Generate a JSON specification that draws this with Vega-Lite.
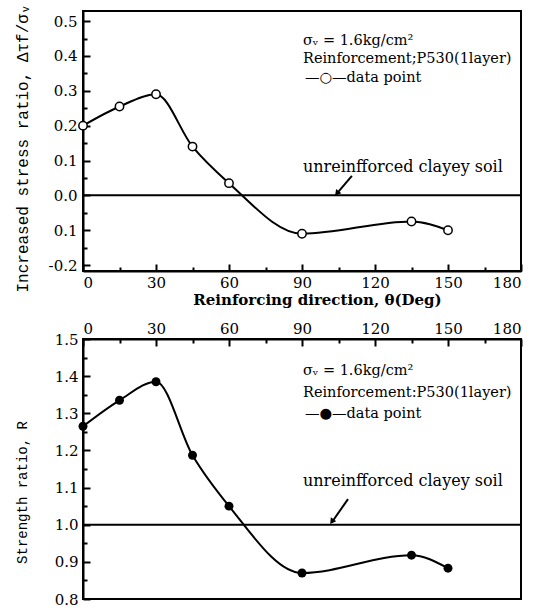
{
  "$schema": "https://vega.github.io/schema/vega-lite/v6.json",
  "padding": {"left": 12, "top": 2, "right": 0, "bottom": 0},
  "background": "white",
  "bounds": "flush",
  "spacing": 68,
  "config": {
    "view": {"stroke": "black", "strokeWidth": 2},
    "axis": {"domainColor": "black", "domainWidth": 2, "tickColor": "black", "tickWidth": 2, "labelColor": "black", "titleColor": "black", "grid": false, "labelFont": "DejaVu Serif", "labelFontSize": 15}
  },
  "datasets": {
    "stress": [
      {"deg": 0, "ratio": 0.2},
      {"deg": 15, "ratio": 0.255},
      {"deg": 30, "ratio": 0.29},
      {"deg": 45, "ratio": 0.14},
      {"deg": 60, "ratio": 0.035},
      {"deg": 90, "ratio": -0.11},
      {"deg": 135, "ratio": -0.075},
      {"deg": 150, "ratio": -0.1}
    ],
    "strength": [
      {"deg": 0, "R": 1.265},
      {"deg": 15, "R": 1.335},
      {"deg": 30, "R": 1.385},
      {"deg": 45, "R": 1.187},
      {"deg": 60, "R": 1.05},
      {"deg": 90, "R": 0.87},
      {"deg": 135, "R": 0.918},
      {"deg": 150, "R": 0.883}
    ]
  },
  "vconcat": [
    {
      "width": 438,
      "height": 260,
      "resolve": {"axis": {"x": "independent", "y": "independent"}},
      "layer": [
        {
          "data": {"values": [{"ref": 0}]},
          "mark": {"type": "rule", "color": "black", "strokeWidth": 2},
          "encoding": {"y": {"field": "ref", "type": "quantitative", "scale": {"domain": [-0.217, 0.529], "nice": false, "zero": false}, "axis": null}}
        },
        {
          "data": {"name": "stress"},
          "mark": {"type": "line", "color": "black", "strokeWidth": 2, "interpolate": "monotone"},
          "encoding": {
            "x": {"field": "deg", "type": "quantitative", "scale": {"domain": [0, 180], "nice": false, "zero": false},
                  "axis": {"orient": "bottom", "values": [0, 30, 60, 90, 120, 150, 180], "tickSize": -7, "labelPadding": 11, "title": "Reinforcing direction, θ(Deg)", "titleFont": "DejaVu Serif", "titleFontSize": 15, "titleFontWeight": "bold", "titleX": 234, "titleY": 28, "titleBaseline": "middle", "titleAlign": "center"}},
            "y": {"field": "ratio", "type": "quantitative", "scale": {"domain": [-0.217, 0.529], "nice": false, "zero": false},
                  "axis": {"orient": "left", "values": [-0.2, -0.1, 0, 0.1, 0.2, 0.3, 0.4, 0.5], "tickSize": -7, "labelPadding": 13, "labelExpr": "datum.value < -0.15 ? '-0.2' : (datum.value < -0.05 ? '0.1' : format(datum.value, '.1f'))", "title": "Increased stress ratio, Δτf/σᵥ", "titleFont": "Liberation Mono", "titleFontSize": 16, "titleFontWeight": "normal", "titleX": -61, "titleY": 137, "titleBaseline": "middle", "titleAlign": "center", "titleAngle": 270}}
          }
        },
        {
          "data": {"name": "stress"},
          "mark": {"type": "point", "shape": "circle", "filled": true, "fill": "white", "stroke": "black", "strokeWidth": 1.5, "size": 70, "opacity": 1},
          "encoding": {
            "x": {"field": "deg", "type": "quantitative", "scale": {"domain": [0, 180], "nice": false, "zero": false},
                  "axis": {"orient": "bottom", "values": [15, 45, 75, 105, 135, 165], "tickSize": -4, "labels": false, "domain": false, "title": null}},
            "y": {"field": "ratio", "type": "quantitative", "scale": {"domain": [-0.217, 0.529], "nice": false, "zero": false},
                  "axis": {"orient": "left", "values": [-0.15, -0.05, 0.05, 0.15, 0.25, 0.35, 0.45], "tickSize": -4, "labels": false, "domain": false, "title": null}}
          }
        },
        {
          "data": {"values": [{"label": "σᵥ = 1.6kg/cm²"}]},
          "mark": {"type": "text", "align": "left", "baseline": "middle", "font": "DejaVu Serif", "fontSize": 14.5, "color": "black"},
          "encoding": {"text": {"field": "label"},
            "x": {"datum": 90.4, "type": "quantitative", "scale": {"domain": [0, 180], "nice": false, "zero": false}, "axis": null},
            "y": {"datum": 0.443, "type": "quantitative", "scale": {"domain": [-0.217, 0.529], "nice": false, "zero": false}, "axis": null}}
        },
        {
          "data": {"values": [{"label": "Reinforcement;P530(1layer)"}]},
          "mark": {"type": "text", "align": "left", "baseline": "middle", "font": "DejaVu Serif", "fontSize": 14.5, "color": "black"},
          "encoding": {"text": {"field": "label"},
            "x": {"datum": 90.4, "type": "quantitative", "scale": {"domain": [0, 180], "nice": false, "zero": false}, "axis": null},
            "y": {"datum": 0.391, "type": "quantitative", "scale": {"domain": [-0.217, 0.529], "nice": false, "zero": false}, "axis": null}}
        },
        {
          "data": {"values": [{"label": "—○—data point"}]},
          "mark": {"type": "text", "align": "left", "baseline": "middle", "font": "DejaVu Serif", "fontSize": 14.5, "color": "black"},
          "encoding": {"text": {"field": "label"},
            "x": {"datum": 91.2, "type": "quantitative", "scale": {"domain": [0, 180], "nice": false, "zero": false}, "axis": null},
            "y": {"datum": 0.338, "type": "quantitative", "scale": {"domain": [-0.217, 0.529], "nice": false, "zero": false}, "axis": null}}
        },
        {
          "data": {"values": [{"label": "unreinfforced clayey soil"}]},
          "mark": {"type": "text", "align": "left", "baseline": "middle", "font": "DejaVu Serif", "fontSize": 16, "color": "black"},
          "encoding": {"text": {"field": "label"},
            "x": {"datum": 90.4, "type": "quantitative", "scale": {"domain": [0, 180], "nice": false, "zero": false}, "axis": null},
            "y": {"datum": 0.08, "type": "quantitative", "scale": {"domain": [-0.217, 0.529], "nice": false, "zero": false}, "axis": null}}
        },
        {
          "data": {"values": [{"label": "arrow"}]},
          "mark": {"type": "rule", "color": "black", "strokeWidth": 2},
          "encoding": {
            "x": {"datum": 110.5, "type": "quantitative", "scale": {"domain": [0, 180], "nice": false, "zero": false}, "axis": null},
            "y": {"datum": 0.056, "type": "quantitative", "scale": {"domain": [-0.217, 0.529], "nice": false, "zero": false}, "axis": null},
            "x2": {"datum": 104.2},
            "y2": {"datum": 0.004}
          }
        },
        {
          "data": {"values": [{"label": "arrowhead"}]},
          "mark": {"type": "point", "shape": "triangle", "filled": true, "color": "black", "size": 45, "angle": 219, "opacity": 1},
          "encoding": {
            "x": {"datum": 104.6, "type": "quantitative", "scale": {"domain": [0, 180], "nice": false, "zero": false}, "axis": null},
            "y": {"datum": 0.008, "type": "quantitative", "scale": {"domain": [-0.217, 0.529], "nice": false, "zero": false}, "axis": null}
          }
        }
      ]
    },
    {
      "width": 438,
      "height": 260,
      "resolve": {"axis": {"x": "independent", "y": "independent"}},
      "layer": [
        {
          "data": {"values": [{"ref": 1.0}]},
          "mark": {"type": "rule", "color": "black", "strokeWidth": 2},
          "encoding": {"y": {"field": "ref", "type": "quantitative", "scale": {"domain": [0.8, 1.5], "nice": false, "zero": false}, "axis": null}}
        },
        {
          "data": {"name": "strength"},
          "mark": {"type": "line", "color": "black", "strokeWidth": 2, "interpolate": "monotone"},
          "encoding": {
            "x": {"field": "deg", "type": "quantitative", "scale": {"domain": [0, 180], "nice": false, "zero": false},
                  "axis": {"orient": "top", "values": [0, 30, 60, 90, 120, 150, 180], "tickSize": -7, "labelPadding": 10, "title": null}},
            "y": {"field": "R", "type": "quantitative", "scale": {"domain": [0.8, 1.5], "nice": false, "zero": false},
                  "axis": {"orient": "left", "values": [0.8, 0.9, 1.0, 1.1, 1.2, 1.3, 1.4, 1.5], "format": ".1f", "tickSize": -7, "labelPadding": 12, "title": "Strength ratio, R", "titleFont": "Liberation Mono", "titleFontSize": 14, "titleFontWeight": "normal", "titleX": -61, "titleY": 153, "titleBaseline": "middle", "titleAlign": "center", "titleAngle": 270}}
          }
        },
        {
          "data": {"name": "strength"},
          "mark": {"type": "point", "shape": "circle", "filled": true, "color": "black", "size": 80, "opacity": 1},
          "encoding": {
            "x": {"field": "deg", "type": "quantitative", "scale": {"domain": [0, 180], "nice": false, "zero": false},
                  "axis": {"orient": "top", "values": [15, 45, 75, 105, 135, 165], "tickSize": -4, "labels": false, "domain": false, "title": null}},
            "y": {"field": "R", "type": "quantitative", "scale": {"domain": [0.8, 1.5], "nice": false, "zero": false},
                  "axis": {"orient": "left", "values": [0.85, 0.95, 1.05, 1.15, 1.25, 1.35, 1.45], "tickSize": -4, "labels": false, "domain": false, "title": null}}
          }
        },
        {
          "data": {"values": [{"label": "σᵥ = 1.6kg/cm²"}]},
          "mark": {"type": "text", "align": "left", "baseline": "middle", "font": "DejaVu Serif", "fontSize": 14.5, "color": "black"},
          "encoding": {"text": {"field": "label"},
            "x": {"datum": 90.4, "type": "quantitative", "scale": {"domain": [0, 180], "nice": false, "zero": false}, "axis": null},
            "y": {"datum": 1.413, "type": "quantitative", "scale": {"domain": [0.8, 1.5], "nice": false, "zero": false}, "axis": null}}
        },
        {
          "data": {"values": [{"label": "Reinforcement:P530(1layer)"}]},
          "mark": {"type": "text", "align": "left", "baseline": "middle", "font": "DejaVu Serif", "fontSize": 14.5, "color": "black"},
          "encoding": {"text": {"field": "label"},
            "x": {"datum": 90.4, "type": "quantitative", "scale": {"domain": [0, 180], "nice": false, "zero": false}, "axis": null},
            "y": {"datum": 1.355, "type": "quantitative", "scale": {"domain": [0.8, 1.5], "nice": false, "zero": false}, "axis": null}}
        },
        {
          "data": {"values": [{"label": "—●—data point"}]},
          "mark": {"type": "text", "align": "left", "baseline": "middle", "font": "DejaVu Serif", "fontSize": 14.5, "color": "black"},
          "encoding": {"text": {"field": "label"},
            "x": {"datum": 91.2, "type": "quantitative", "scale": {"domain": [0, 180], "nice": false, "zero": false}, "axis": null},
            "y": {"datum": 1.297, "type": "quantitative", "scale": {"domain": [0.8, 1.5], "nice": false, "zero": false}, "axis": null}}
        },
        {
          "data": {"values": [{"label": "unreinfforced clayey soil"}]},
          "mark": {"type": "text", "align": "left", "baseline": "middle", "font": "DejaVu Serif", "fontSize": 16, "color": "black"},
          "encoding": {"text": {"field": "label"},
            "x": {"datum": 90.4, "type": "quantitative", "scale": {"domain": [0, 180], "nice": false, "zero": false}, "axis": null},
            "y": {"datum": 1.118, "type": "quantitative", "scale": {"domain": [0.8, 1.5], "nice": false, "zero": false}, "axis": null}}
        },
        {
          "data": {"values": [{"label": "arrow"}]},
          "mark": {"type": "rule", "color": "black", "strokeWidth": 2},
          "encoding": {
            "x": {"datum": 108.9, "type": "quantitative", "scale": {"domain": [0, 180], "nice": false, "zero": false}, "axis": null},
            "y": {"datum": 1.069, "type": "quantitative", "scale": {"domain": [0.8, 1.5], "nice": false, "zero": false}, "axis": null},
            "x2": {"datum": 102.2},
            "y2": {"datum": 1.006}
          }
        },
        {
          "data": {"values": [{"label": "arrowhead"}]},
          "mark": {"type": "point", "shape": "triangle", "filled": true, "color": "black", "size": 45, "angle": 216, "opacity": 1},
          "encoding": {
            "x": {"datum": 102.5, "type": "quantitative", "scale": {"domain": [0, 180], "nice": false, "zero": false}, "axis": null},
            "y": {"datum": 1.0105, "type": "quantitative", "scale": {"domain": [0.8, 1.5], "nice": false, "zero": false}, "axis": null}
          }
        }
      ]
    }
  ]
}
